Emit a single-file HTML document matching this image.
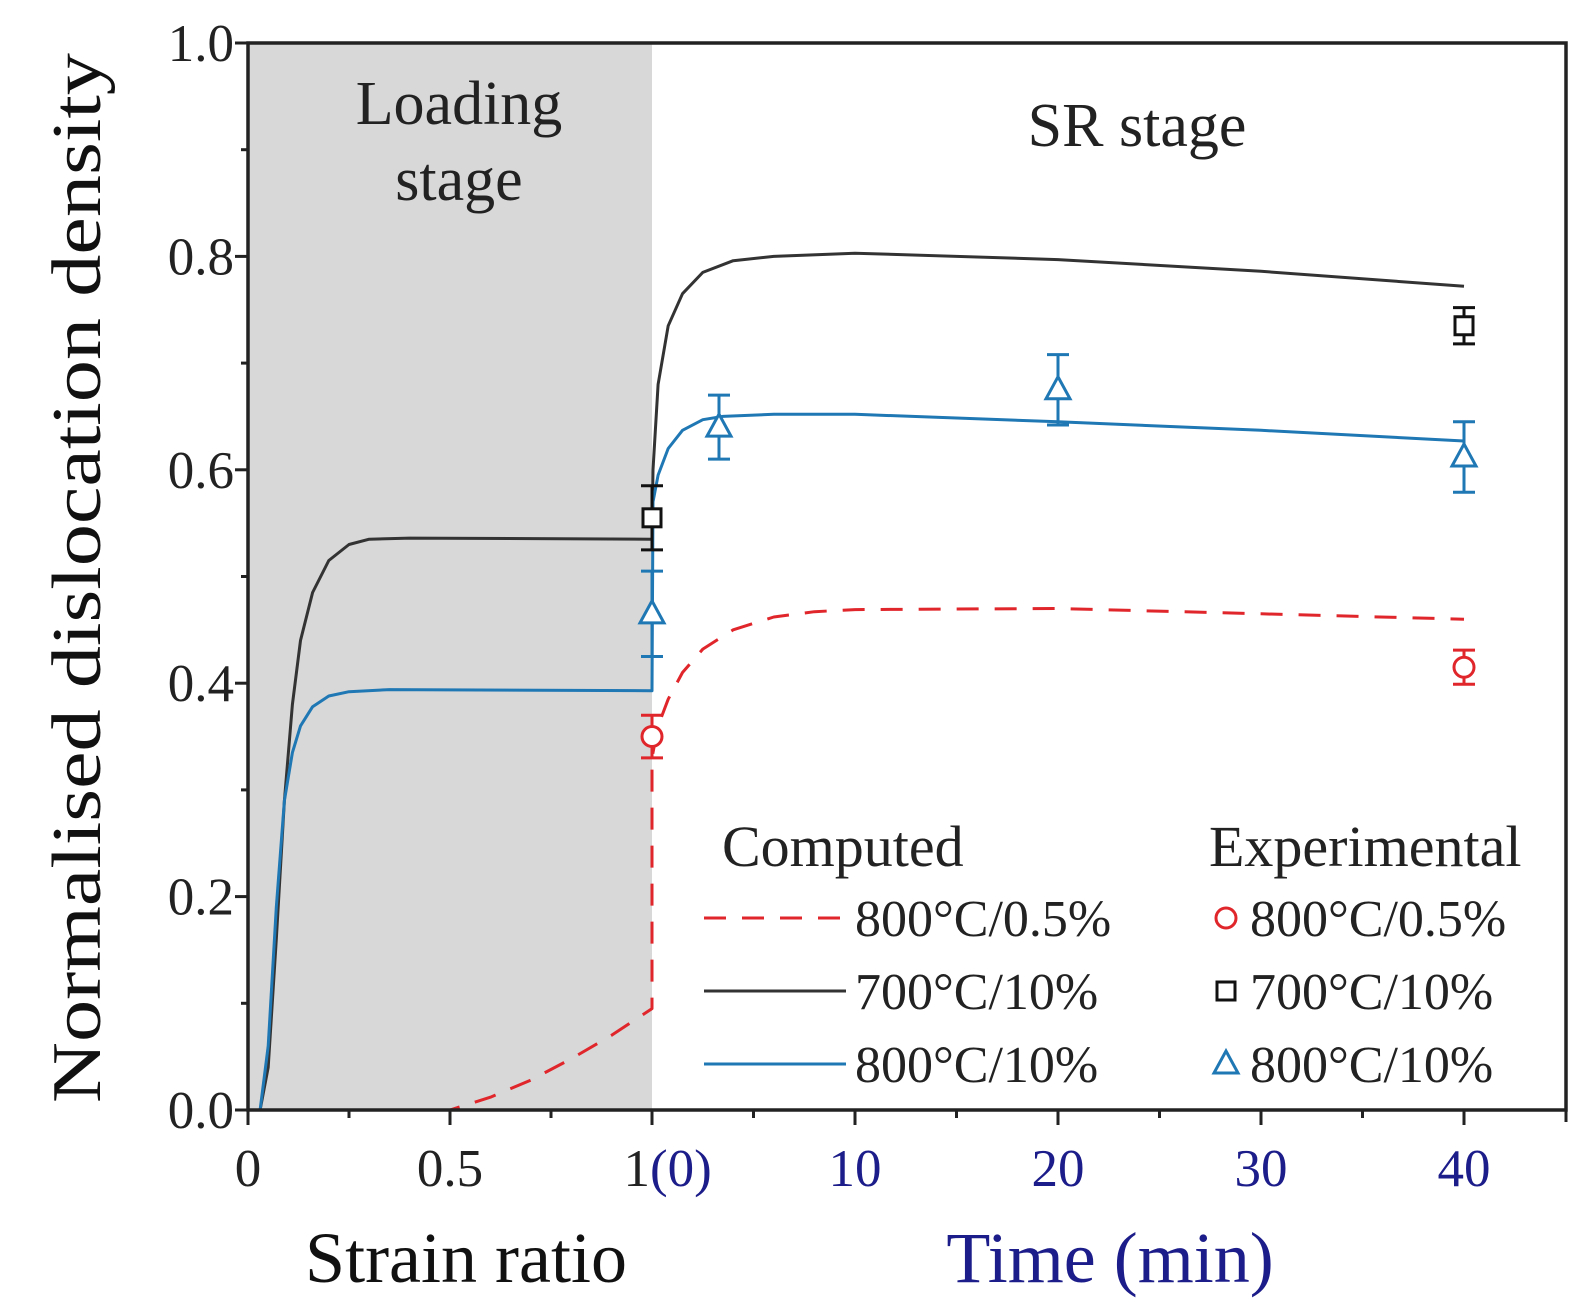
<!DOCTYPE html>
<html><head><meta charset="utf-8">
<style>
html,body{margin:0;padding:0;background:#fff;}
svg{display:block;font-family:"Liberation Serif",serif;}
</style></head>
<body>
<svg id="chart" width="1593" height="1310" viewBox="0 0 1593 1310"></svg>
<script>
// ---- data ----
const yTicks = [0.0, 0.2, 0.4, 0.6, 0.8, 1.0];
const yTickLabels = ["0.0", "0.2", "0.4", "0.6", "0.8", "1.0"];
const strainTicks = [0, 0.5, 1];
const strainTickLabels = ["0", "0.5", "1"];
const timeTicks = [10, 20, 30, 40];
const timeTickLabels = ["10", "20", "30", "40"];

// loading stage (x = strain ratio)
const loadBlackX = [0.03,0.05,0.07,0.09,0.11,0.13,0.16,0.2,0.25,0.3,0.4,1.0];
const loadBlackY = [0,0.04,0.16,0.29,0.38,0.44,0.485,0.515,0.53,0.535,0.536,0.535];
const loadBlueX = [0.03,0.05,0.07,0.09,0.11,0.13,0.16,0.2,0.25,0.35,1.0];
const loadBlueY = [0,0.06,0.19,0.29,0.335,0.36,0.378,0.388,0.392,0.394,0.393];
const loadRedX = [0,0.3,0.5,0.6,0.7,0.8,0.9,1.0];
const loadRedY = [0,0,0,0.012,0.028,0.048,0.07,0.095];

// SR stage (x = time, min)
const srBlackX = [0,0.05,0.3,0.8,1.5,2.5,4,6,10,20,30,40];
const srBlackY = [0.535,0.6,0.68,0.735,0.765,0.785,0.796,0.8,0.803,0.797,0.786,0.772];
const srBlueX = [0,0.05,0.3,0.8,1.5,2.5,3.5,6,10,20,30,40];
const srBlueY = [0.393,0.57,0.595,0.62,0.637,0.647,0.65,0.652,0.652,0.645,0.637,0.627];
const srRedX = [0,0,0.3,0.8,1.5,2.5,4,6,8,10,20,30,40];
const srRedY = [0.095,0.33,0.36,0.385,0.41,0.432,0.45,0.462,0.467,0.469,0.47,0.465,0.46];

// experimental
const expRedT = [0, 40];
const expRedV = [0.35, 0.415];
const expRedE = [0.02, 0.016];
const expBlackT = [0, 40];
const expBlackV = [0.555, 0.735];
const expBlackE = [0.03, 0.017];
const expBlueT = [0, 3.3, 20, 40];
const expBlueV = [0.465, 0.64, 0.675, 0.612];
const expBlueE = [0.04, 0.03, 0.033, 0.033];

// ---- layout ----
const L=248, T=43, B=1110, R=1566, XS=652;
const sx = s => L + s*(XS-L);
const tx = t => XS + t*20.3;
const yy = v => B - v*(B-T);
const NS="http://www.w3.org/2000/svg";
const svg=document.getElementById('chart');
function mk(tag, attrs, parent){const e=document.createElementNS(NS,tag);for(const k in attrs)e.setAttribute(k,attrs[k]);(parent||svg).appendChild(e);return e;}
function txt(s,attrs,parent){const e=mk('text',attrs,parent);e.textContent=s;return e;}

const RED="#e0262b", BLK="#333333", BLU="#1f77b4", NAVY="#1c1c8a";

let e=mk('rect',{x:L,y:T,width:XS-L,height:B-T,fill:"#d8d8d8"});



function pathFrom(xs,ys,fx){return xs.map((x,i)=>(i?'L':'M')+fx(x).toFixed(1)+','+yy(ys[i]).toFixed(1)).join(' ');}
function series(name,d,color,dash){const p=mk('path',{d:d,fill:'none',stroke:color,'stroke-width':3,'stroke-dasharray':dash||'none','stroke-linejoin':'round'});

}
series('computed-800c-0.5-line', pathFrom(loadRedX,loadRedY,sx)+' '+pathFrom(srRedX,srRedY,tx).replace('M','L'), RED, '22,16');
series('computed-700c-10-line', pathFrom(loadBlackX,loadBlackY,sx)+' '+pathFrom(srBlackX,srBlackY,tx).replace('M','L'), BLK);
series('computed-800c-10-line', pathFrom(loadBlueX,loadBlueY,sx)+' '+pathFrom(srBlueX,srBlueY,tx).replace('M','L'), BLU);

function marker(kind,cx,cy,color,g){
  if(kind==='o') mk('circle',{cx:cx,cy:cy,r:10,fill:'#fff',stroke:color,'stroke-width':3},g);
  else if(kind==='s') mk('rect',{x:cx-9,y:cy-9,width:18,height:18,fill:'#fff',stroke:color,'stroke-width':3},g);
  else mk('path',{d:`M${cx},${cy-13} L${cx+12},${cy+9} L${cx-12},${cy+9} Z`,fill:'#fff',stroke:color,'stroke-width':3},g);
}
function exp(name,ts,vs,es,color,kind){
  ts.forEach((t,i)=>{
    const g=mk('g',{});
    
    
    const x=tx(t), y1=yy(vs[i]+es[i]), y2=yy(vs[i]-es[i]);
    mk('line',{x1:x,x2:x,y1:y1,y2:y2,stroke:color,'stroke-width':3},g);
    mk('line',{x1:x-11,x2:x+11,y1:y1,y2:y1,stroke:color,'stroke-width':3},g);
    mk('line',{x1:x-11,x2:x+11,y1:y2,y2:y2,stroke:color,'stroke-width':3},g);
    marker(kind,x,yy(vs[i]),color,g);
  });
}
exp('exp-700c-10',expBlackT,expBlackV,expBlackE,'#111','s');
exp('exp-800c-10',expBlueT,expBlueV,expBlueE,BLU,'t');
exp('exp-800c-0.5',expRedT,expRedV,expRedE,RED,'o');

e=mk('rect',{x:L,y:T,width:R-L,height:B-T,fill:'none',stroke:'#222','stroke-width':3.5});



for(let v=0; v<=1.001; v+=0.1){mk('line',{x1:L-(Math.round(v*10)%2?7:13),x2:L,y1:yy(v),y2:yy(v),stroke:'#222','stroke-width':3});}
yTicks.forEach((v,i)=>{const t=txt(yTickLabels[i],{x:L-14,y:yy(v)+18,'font-size':53,'text-anchor':'end',fill:'#222'});

});
[0.25,0.75].forEach(s=>mk('line',{x1:sx(s),x2:sx(s),y1:B,y2:B+8,stroke:'#222','stroke-width':3}));
strainTicks.forEach(s=>mk('line',{x1:sx(s),x2:sx(s),y1:B,y2:B+15,stroke:'#222','stroke-width':3}));
[5,15,25,35].forEach(t=>mk('line',{x1:tx(t),x2:tx(t),y1:B,y2:B+8,stroke:'#222','stroke-width':3}));
timeTicks.forEach(t=>mk('line',{x1:tx(t),x2:tx(t),y1:B,y2:B+15,stroke:'#222','stroke-width':3}));
mk('line',{x1:R,x2:R,y1:B,y2:B+12,stroke:'#222','stroke-width':3});
strainTicks.forEach((s,i)=>{const t=txt(strainTickLabels[i],{x:sx(s)-(i==2?2:0),y:B+76,'font-size':53,'text-anchor':i==2?'end':'middle',fill:'#222'});

});
e=txt('(0)',{x:sx(1)-2,y:B+76,'font-size':53,fill:NAVY});


timeTicks.forEach((t,i)=>{const k=txt(timeTickLabels[i],{x:tx(t),y:B+76,'font-size':53,'text-anchor':'middle',fill:NAVY});

});

e=txt('Strain ratio',{x:466,y:1282,'font-size':72,'text-anchor':'middle',fill:'#111'});


e=txt('Time (min)',{x:1110,y:1282,'font-size':72,'text-anchor':'middle',fill:NAVY});


e=txt('Normalised dislocation density',{x:0,y:0,'font-size':70,'text-anchor':'middle',fill:'#111',textLength:1050,lengthAdjust:'spacingAndGlyphs',transform:`translate(100,578) rotate(-90)`});


e=txt('Loading',{x:459,y:124,'font-size':62,'text-anchor':'middle',fill:'#222'});


e=txt('stage',{x:459,y:200,'font-size':62,'text-anchor':'middle',fill:'#222'});


e=txt('SR stage',{x:1137,y:146,'font-size':62,'text-anchor':'middle',fill:'#222'});



e=txt('Computed',{x:722,y:866,'font-size':58,fill:'#222'});


e=txt('Experimental',{x:1209,y:866,'font-size':58,fill:'#222'});


const legLabels=['800°C/0.5%','700°C/10%','800°C/10%'];
const legColors=[RED,BLK,BLU];
const legKinds=['o','s','t'];
const legY=[918,991,1064];
legLabels.forEach((lab,i)=>{
  const g=mk('g',{});
  
  
  mk('line',{x1:704,x2:846,y1:legY[i],y2:legY[i],stroke:legColors[i],'stroke-width':3,'stroke-dasharray':i==0?'22,16':'none'},g);
  txt(lab,{x:855,y:legY[i]+18,'font-size':52,fill:'#222'},g);
  const g2=mk('g',{});
  
  
  marker(legKinds[i],1226,legY[i],i==1?'#111':legColors[i],g2);
  txt(lab,{x:1250,y:legY[i]+18,'font-size':52,fill:'#222'},g2);
});
</script>
</body></html>
